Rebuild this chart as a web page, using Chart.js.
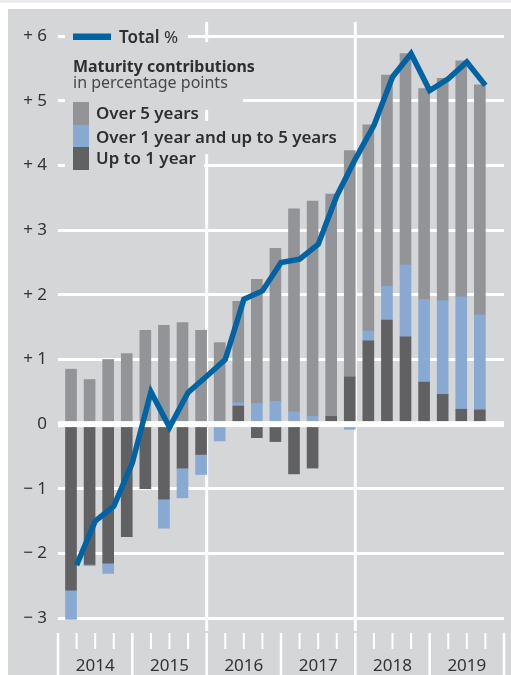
<!DOCTYPE html>
<html>
<head>
<meta charset="utf-8">
<script src="https://cdn.jsdelivr.net/npm/chart.js@4"></script>
<style>
  html, body { margin: 0; padding: 0; background: #fff; }
  canvas { display: block; }
</style>
</head>
<body>
<canvas id="chart" width="511" height="675"></canvas>
<script>
// Quarterly data, 2014 Q1 - 2019 Q3
const quarters = ['2014 Q1', '2014 Q2', '2014 Q3', '2014 Q4', '2015 Q1', '2015 Q2', '2015 Q3', '2015 Q4',
                  '2016 Q1', '2016 Q2', '2016 Q3', '2016 Q4', '2017 Q1', '2017 Q2', '2017 Q3', '2017 Q4',
                  '2018 Q1', '2018 Q2', '2018 Q3', '2018 Q4', '2019 Q1', '2019 Q2', '2019 Q3'];
const upTo1 = [-2.57, -2.17, -2.15, -1.74, -1.00, -1.16, -0.68, -0.47, 0.00, 0.28, -0.21, -0.27,
               -0.77, -0.68, 0.12, 0.73, 1.29, 1.61, 1.35, 0.65, 0.46, 0.23, 0.22];
const over1to5 = [-0.45, -0.02, -0.16, 0.00, 0.03, -0.45, -0.46, -0.31, -0.26, 0.05, 0.32, 0.35,
                  0.19, 0.12, 0.00, -0.08, 0.15, 0.52, 1.11, 1.28, 1.45, 1.74, 1.47];
const over5 = [0.85, 0.69, 1.00, 1.09, 1.42, 1.53, 1.57, 1.45, 1.26, 1.57, 1.92, 2.37,
               3.14, 3.33, 3.44, 3.50, 3.19, 3.27, 3.27, 3.26, 3.44, 3.65, 3.56];
const total = [-2.18, -1.50, -1.27, -0.60, 0.50, -0.05, 0.49, 0.74, 1.00, 1.93, 2.06, 2.50,
               2.55, 2.78, 3.53, 4.10, 4.62, 5.37, 5.73, 5.16, 5.34, 5.60, 5.24];
const years = ['2014', '2015', '2016', '2017', '2018', '2019'];
const yTicks = [-3, -2, -1, 0, 1, 2, 3, 4, 5, 6];

const seriesNames = ['Over 5 years', 'Over 1 year and up to 5 years', 'Up to 1 year'];
const lineName = 'Total';

const panelBg = '#d5d6d8';
const colOver5 = '#939497';
const colMid = '#88a9d2';
const colShort = '#616163';
const colLine = '#0063a4';
const textCol = '#2e2e2e';
const font = '"Noto Sans", sans-serif';

// bars sit just left of the quarter end, the line is drawn at the quarter end
const barAt = i => i + 0.7;
const lineAt = i => i + 1;

function fitSize(ctx, text, weight, size, target) {
    ctx.font = weight + ' ' + size + 'px ' + font;
    const w = ctx.measureText(text).width;
    return w > target ? size * target / w : size;
}

const panelPlugin = {
    id: 'panel',
    beforeDraw(chart) {
        const ctx = chart.ctx;
        ctx.save();
        ctx.fillStyle = '#fff';
        ctx.fillRect(0, 0, chart.width, chart.height);
        ctx.fillStyle = '#ebebed';
        ctx.fillRect(0, 0, chart.width, 3);
        ctx.fillStyle = panelBg;
        ctx.fillRect(8, 9, chart.width - 8, chart.height - 9);
        ctx.restore();
    },
    beforeDatasetsDraw(chart) {
        const ctx = chart.ctx;
        const xs = chart.scales.x;
        const area = chart.chartArea;
        ctx.save();
        // vertical grid every two years
        ctx.fillStyle = '#fff';
        [8, 16].forEach(q => {
            const x = xs.getPixelForValue(q);
            ctx.fillRect(x - 1.5, area.top, 3, area.bottom - area.top);
        });
        // quarter ticks and year labels under the plot
        for (let q = 0; q <= 24; q++) {
            const x = xs.getPixelForValue(q);
            if (q % 4 === 0) ctx.fillRect(x - 1.25, area.bottom + 2, 2.5, chart.height - area.bottom);
            else ctx.fillRect(x - 1, area.bottom + 2, 2, 16);
        }
        ctx.fillStyle = '#333';
        ctx.font = '17px ' + font;
        ctx.textAlign = 'center';
        ctx.textBaseline = 'alphabetic';
        years.forEach((y, k) => ctx.fillText(y, xs.getPixelForValue(4 * k + 2), 671));

        // legend: knock out the grid behind each line of text
        ctx.fillStyle = panelBg;
        ctx.fillRect(65, 27, 123, 21);
        ctx.fillRect(65, 42, 198, 36);
        ctx.fillRect(65, 76, 178, 34);
        ctx.fillRect(65, 104, 139, 20);
        ctx.fillRect(65, 121, 280, 33);
        ctx.fillRect(65, 150, 139, 25);

        ctx.textAlign = 'left';
        ctx.fillStyle = colLine;
        ctx.fillRect(73, 33.5, 38, 6.5);
        let s = fitSize(ctx, lineName + ' %', '600', 17, 60);
        ctx.font = '600 ' + s + 'px ' + font;
        ctx.fillStyle = textCol;
        ctx.fillText(lineName, 119, 43);
        const tw = ctx.measureText(lineName + ' ').width;
        ctx.font = s + 'px ' + font;
        ctx.fillText('%', 119 + tw, 43);

        s = fitSize(ctx, 'Maturity contributions', 'bold', 17, 182);
        ctx.font = 'bold ' + s + 'px ' + font;
        ctx.fillText('Maturity contributions', 73, 72);
        s = fitSize(ctx, 'in percentage points', 'normal', 17, 155);
        ctx.font = s + 'px ' + font;
        ctx.fillStyle = '#484848';
        ctx.fillText('in percentage points', 73, 88);

        ctx.fillStyle = colOver5;
        ctx.fillRect(73, 102, 16, 23);
        ctx.fillStyle = colMid;
        ctx.fillRect(73, 125, 16, 22);
        ctx.fillStyle = colShort;
        ctx.fillRect(73, 147, 16, 23);
        s = fitSize(ctx, seriesNames[1], '600', 17, 241);
        ctx.font = '600 ' + s + 'px ' + font;
        ctx.fillStyle = textCol;
        ctx.fillText(seriesNames[0], 96, 119);
        ctx.fillText(seriesNames[1], 96, 142.5);
        ctx.fillText(seriesNames[2], 96, 164);
        ctx.restore();
    },
    beforeDatasetDraw(chart, args) {
        // zero line goes over the bars but under the total line
        if (args.index !== 0) return;
        const ctx = chart.ctx;
        const y0 = chart.scales.y.getPixelForValue(0);
        ctx.save();
        ctx.fillStyle = '#fff';
        ctx.fillRect(chart.chartArea.left, y0 - 3, chart.chartArea.right - chart.chartArea.left, 6);
        ctx.restore();
    }
};

const ctx = document.getElementById('chart').getContext('2d');
new Chart(ctx, {
    type: 'bar',
    data: {
        datasets: [{
            type: 'line',
            label: lineName,
            data: total.map((v, i) => ({ x: lineAt(i), y: v })),
            borderColor: colLine,
            borderWidth: 5.5,
            borderJoinStyle: 'miter',
            pointRadius: 0,
            tension: 0,
            fill: false
        }, {
            label: seriesNames[2],
            data: upTo1.map((v, i) => ({ x: barAt(i), y: v })),
            backgroundColor: colShort
        }, {
            label: seriesNames[1],
            data: over1to5.map((v, i) => ({ x: barAt(i), y: v })),
            backgroundColor: colMid
        }, {
            label: seriesNames[0],
            data: over5.map((v, i) => ({ x: barAt(i), y: v })),
            backgroundColor: colOver5
        }]
    },
    options: {
        responsive: false,
        animation: false,
        barThickness: 11,
        layout: { padding: { left: 0, top: 22, right: 7, bottom: 0 } },
        plugins: {
            legend: { display: false },
            tooltip: { enabled: false }
        },
        scales: {
            x: {
                type: 'linear',
                stacked: true,
                offset: false,
                min: 0,
                max: 24,
                grid: { display: false },
                border: { display: false },
                ticks: { display: false },
                afterFit(scale) { scale.height = 44; }
            },
            y: {
                stacked: true,
                min: -3.2,
                max: 6.22,
                border: { display: false },
                afterFit(scale) { scale.width = 58; },
                afterBuildTicks(scale) { scale.ticks = yTicks.map(v => ({ value: v })); },
                grid: {
                    drawTicks: false,
                    color: c => c.tick && c.tick.value === 0 ? 'rgba(0,0,0,0)' : '#fff',
                    lineWidth: 3
                },
                ticks: {
                    padding: 11,
                    color: '#333',
                    font: { family: '"Noto Sans", sans-serif', size: 17 },
                    callback: v => v > 0 ? '+ ' + v : v < 0 ? '\u2212 ' + (-v) : '0'
                }
            }
        }
    },
    plugins: [panelPlugin]
});
</script>
</body>
</html>
